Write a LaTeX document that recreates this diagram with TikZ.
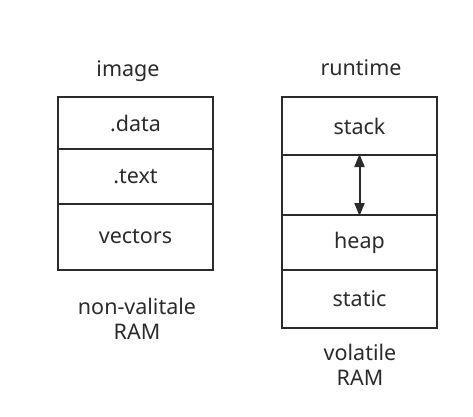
\documentclass[tikz,border=0pt]{standalone}
\usepackage{fontspec}
\setmainfont{Noto Sans}
\usetikzlibrary{arrows.meta}
\definecolor{ink}{HTML}{2B2B2B}
\begin{document}
\begin{tikzpicture}[x=1pt,y=-1pt,
  cell/.style={draw=ink,line width=2pt,text=ink,minimum width=155pt,inner sep=0pt,font=\fontsize{21.5}{25}\selectfont,anchor=north west},
  lbl/.style={text=ink,font=\fontsize{21.5}{25}\selectfont,align=center,inner sep=0pt}]
\useasboundingbox (0,0) rectangle (473,416);
% left column
\node[cell,minimum height=52pt] (data) at (57,96) {.data};
\node[cell,minimum height=55pt] (text) at (57,148) {.text};
\node[cell,minimum height=66pt] (vec) at (57,203) {vectors};
\node[lbl,anchor=base] (image) at (128,76) {image};
\node[lbl] (nv) at (137,318.5) {non-valitale\\RAM};
% right column
\node[cell,minimum height=58pt] (stack) at (281,96) {stack};
\node[cell,minimum height=60pt] (gap) at (281,154) {};
\node[cell,minimum height=55pt] (heap) at (281,214) {heap};
\node[cell,minimum height=58pt] (static) at (281,269) {static};
\node[lbl,anchor=base] (rt) at (361,75) {runtime};
\node[lbl] (vol) at (360,364.5) {volatile\\RAM};
\draw[ink,line width=2pt,{Triangle[length=13pt,width=10pt]}-{Triangle[length=13pt,width=10pt]}] (gap.north) -- (gap.south);
\end{tikzpicture}
\end{document}
